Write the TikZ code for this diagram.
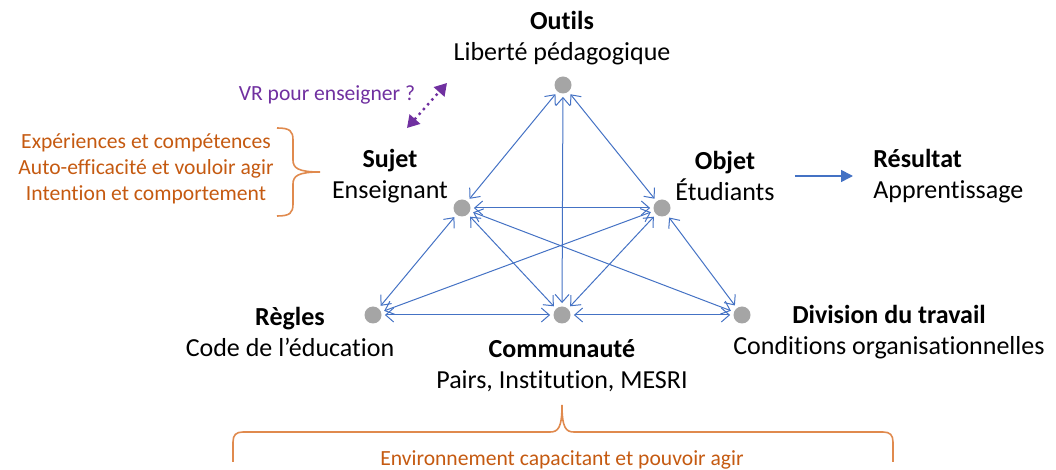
\documentclass[tikz,border=0pt]{standalone}
\usepackage{fontspec}
\setmainfont{Carlito}[Ligatures=NoCommon]
\usetikzlibrary{arrows.meta}
\definecolor{lienbleu}{HTML}{4472C4}
\definecolor{pointgris}{HTML}{A5A5A5}
\definecolor{orangetxt}{HTML}{C55A11}
\definecolor{orangebrc}{HTML}{E08A4E}
\definecolor{violet}{HTML}{7030A0}

\begin{document}
\begin{tikzpicture}[x=0.5pt, y=-0.5pt,
  point/.style={circle, fill=pointgris, minimum size=8.5pt, inner sep=0pt},
  titre/.style={align=center, inner sep=0pt, font=\fontsize{13}{15.5}\selectfont},
  remarque/.style={align=center, inner sep=0pt, text=orangetxt, font=\fontsize{10.8}{13}\selectfont},
  lien/.style={draw=lienbleu, line width=0.5pt, {Straight Barb[length=4pt,width=7pt]}-{Straight Barb[length=4pt,width=7pt]}, shorten <=1.5pt, shorten >=1.5pt},
  fleche/.style={draw=lienbleu, line width=0.8pt, -{Triangle[length=6pt,width=6pt]}},
  accolade/.style={draw=orangebrc, line width=0.8pt}
]
\useasboundingbox (0,0) rectangle (1056,470);

% les six poles
\node[point] (outils) at (563,85) {};
\node[point] (sujet) at (462,208) {};
\node[point] (objet) at (662,208) {};
\node[point] (regles) at (373,315) {};
\node[point] (comm) at (562,315) {};
\node[point] (div) at (742,315) {};

\node[titre] (outilslbl) at (562,38) {\textbf{Outils}\\Liberté pédagogique};
\node[titre] (sujetlbl) at (390,176) {\textbf{Sujet}\\Enseignant};
\node[titre] (objetlbl) at (725,176) {\textbf{Objet}\\Étudiants};
\node[titre, align=left, anchor=west] (resultatlbl) at (873,176) {\textbf{Résultat}\\Apprentissage};
\node[titre] (regleslbl) at (290,332) {\textbf{Règles}\\Code de l’éducation};
\node[titre] (commlbl) at (562,366) {\textbf{Communauté}\\Pairs, Institution, MESRI};
\node[titre] (divlbl) at (889,332) {\textbf{Division du travail}\\Conditions organisationnelles};

% liens entre les poles
\foreach \a/\b in {outils/sujet, outils/objet, outils/comm, sujet/objet, sujet/regles,
  sujet/comm, sujet/div, objet/regles, objet/comm, objet/div, regles/comm, comm/div}
  \draw[lien] (\a) -- (\b);

\draw[fleche, shorten <=10pt, shorten >=10pt] (objetlbl.east) -- (resultatlbl.west);

% VR
\node[remarque, text=violet] (vrlbl) at (327,95) {VR pour enseigner ?};
\coordinate (vrbas) at (407,128);
\coordinate (vrhaut) at (447,83);
\draw[violet, line width=1.2pt, dotted, {Triangle[length=6pt,width=7pt]}-{Triangle[length=6pt,width=7pt]}] (vrbas) -- (vrhaut);

% sujet : accolade gauche
\node[remarque] (sujetnote) at (146,169) {Expériences et compétences\\Auto-efficacité et vouloir agir\\Intention et comportement};
\draw[accolade] (277,128) .. controls (290,128) and (293,131) .. (293,140) -- (293,160)
  .. controls (293,168) and (298,172) .. (320,172)
  .. controls (298,172) and (293,176) .. (293,184) -- (293,204)
  .. controls (293,213) and (290,216) .. (277,216);

% communaute : accolade basse
\node[remarque] (envlbl) at (562,460) {Environnement capacitant et pouvoir agir};
\draw[accolade] (233,462) -- (233,442) .. controls (233,435) and (236,432) .. (243,432) -- (550,432)
  .. controls (558,432) and (562,428) .. (562,405)
  .. controls (562,428) and (566,432) .. (574,432) -- (883,432)
  .. controls (890,432) and (893,435) .. (893,442) -- (893,462);
\end{tikzpicture}
\end{document}
